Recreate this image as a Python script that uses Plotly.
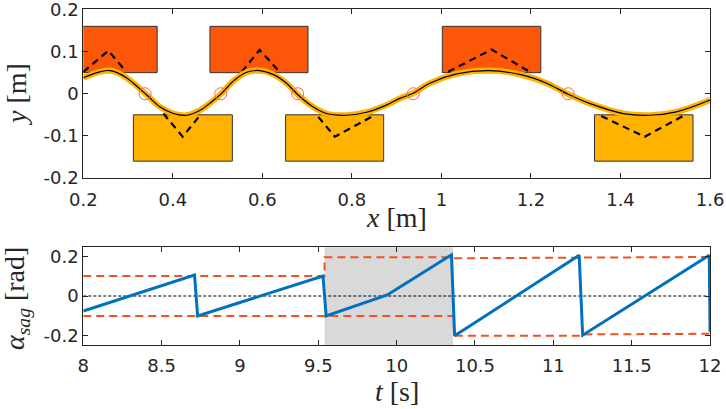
import plotly.graph_objects as go

# ---- top panel: pads, reference path and body curve ----
pad_top_x0 = [0.145, 0.483, 1.002]
pad_top_x1 = [0.365, 0.702, 1.222]
pad_bot_x0 = [0.312, 0.652, 1.342]
pad_bot_x1 = [0.533, 0.871, 1.562]
pad_top_y = [0.05, 0.16]
pad_bot_y = [-0.16, -0.05]

ref_x = [0.2, 0.256, 0.293, None, 0.379, 0.422, 0.461, None,
         0.554, 0.594, 0.635, None, 0.725, 0.762, 0.847, None,
         1.015, 1.112, 1.201, None, 1.357, 1.454, 1.543]
ref_y = [0.052, 0.102, 0.056, None, -0.047, -0.102, -0.051, None,
         0.052, 0.104, 0.056, None, -0.055, -0.102, -0.053, None,
         0.052, 0.105, 0.05, None, -0.053, -0.102, -0.051]

body_x = [0.2, 0.237, 0.26, 0.289, 0.312, 0.342, 0.371, 0.401, 0.431, 0.461,
          0.487, 0.509, 0.535, 0.565, 0.594, 0.624, 0.654, 0.68, 0.713, 0.743,
          0.788, 0.833, 0.877, 0.907, 0.937, 0.974, 1.034, 1.108, 1.182, 1.235,
          1.283, 1.331, 1.406, 1.465, 1.525, 1.6]
body_y = [0.038, 0.052, 0.055, 0.043, 0.025, -0.003, -0.031, -0.047, -0.051, -0.039,
          -0.019, 0.001, 0.030, 0.051, 0.055, 0.046, 0.025, -0.003, -0.031, -0.047,
          -0.051, -0.044, -0.027, -0.011, 0.001, 0.025, 0.047, 0.055, 0.044, 0.025,
          -0.001, -0.023, -0.047, -0.051, -0.043, -0.015]

contact_x = [0.338, 0.507, 0.679, 0.937, 1.283]
contact_y = [0, 0, 0, 0, 0]

# ---- bottom panel: sag angle and limits ----
t_alpha = [8.0, 8.71, 8.73, 9.53, 9.55, 9.94, 10.35, 10.37, 11.165, 11.187, 11.995, 12.0]
alpha = [-0.076, 0.105, -0.1, 0.1, -0.1, 0.005, 0.207, -0.2, 0.205, -0.197, 0.205, -0.18]

t_upper = [8.0, 9.54, 9.54, 10.36, 10.37, 12.0]
alpha_upper = [0.1, 0.1, 0.195, 0.195, 0.19, 0.196]
t_lower = [8.0, 10.36, 10.37, 11.19, 11.2, 12.0]
alpha_lower = [-0.1, -0.1, -0.2, -0.2, -0.193, -0.19]

shade_t = [9.54, 10.36]

RED = "#FC5608"
YELLOW = "#FFB300"
EDGE = "#333333"
AX = "#262626"

fig = go.Figure()

fig.add_trace(go.Scatter(x=ref_x, y=ref_y, mode="lines",
                         line=dict(color="black", width=2.2, dash="7px,5px"),
                         xaxis="x", yaxis="y"))
fig.add_trace(go.Scatter(x=body_x, y=body_y, mode="lines", line_shape="spline",
                         line=dict(color=YELLOW, width=6), xaxis="x", yaxis="y"))
fig.add_trace(go.Scatter(x=body_x, y=body_y, mode="lines", line_shape="spline",
                         line=dict(color="black", width=1.2), xaxis="x", yaxis="y"))
fig.add_trace(go.Scatter(x=contact_x, y=contact_y, mode="markers",
                         marker=dict(symbol="circle-open", size=12,
                                     color="#F2685A", line=dict(width=1)),
                         xaxis="x", yaxis="y"))

fig.add_trace(go.Scatter(x=[8, 12], y=[0, 0], mode="lines",
                         line=dict(color="black", width=1, dash="3px,2px"),
                         xaxis="x2", yaxis="y2"))
fig.add_trace(go.Scatter(x=t_upper, y=alpha_upper, mode="lines",
                         line=dict(color="#F4511E", width=2, dash="8px,5px"),
                         xaxis="x2", yaxis="y2"))
fig.add_trace(go.Scatter(x=t_lower, y=alpha_lower, mode="lines",
                         line=dict(color="#F4511E", width=2, dash="8px,5px"),
                         xaxis="x2", yaxis="y2"))
fig.add_trace(go.Scatter(x=t_alpha, y=alpha, mode="lines",
                         line=dict(color="#0072BD", width=3),
                         xaxis="x2", yaxis="y2"))

shapes = []
for a, b in zip(pad_top_x0, pad_top_x1):
    shapes.append(dict(type="rect", xref="x", yref="y", x0=a, x1=b,
                       y0=pad_top_y[0], y1=pad_top_y[1], fillcolor=RED,
                       line=dict(color=EDGE, width=1), layer="below"))
for a, b in zip(pad_bot_x0, pad_bot_x1):
    shapes.append(dict(type="rect", xref="x", yref="y", x0=a, x1=b,
                       y0=pad_bot_y[0], y1=pad_bot_y[1], fillcolor=YELLOW,
                       line=dict(color=EDGE, width=1), layer="below"))
shapes.append(dict(type="rect", xref="x2", yref="y2 domain", x0=shade_t[0], x1=shade_t[1],
                   y0=0, y1=1, fillcolor="#D9D9D9", line=dict(width=0), layer="below"))

tickfont = dict(family="DejaVu Sans", size=18, color=AX)
axis_common = dict(showline=True, linecolor=AX, linewidth=1, mirror="ticks",
                   ticks="inside", ticklen=5, tickcolor=AX, showgrid=False,
                   zeroline=False, tickfont=tickfont, automargin=False,
                   ticklabeloverflow="allow")

fig.update_layout(
    width=726, height=409,
    margin=dict(l=0, r=0, t=0, b=0),
    paper_bgcolor="white", plot_bgcolor="white",
    showlegend=False,
    shapes=shapes,
    xaxis=dict(domain=[0.1147, 0.978], range=[0.2, 1.6],
               tickvals=[0.2, 0.4, 0.6, 0.8, 1.0, 1.2, 1.4, 1.6],
               ticktext=["0.2", "0.4", "0.6", "0.8", "1", "1.2", "1.4", "1.6"],
               ticklabelstandoff=5, anchor="y", **axis_common),
    yaxis=dict(domain=[0.5648, 0.9768], range=[-0.2, 0.2],
               tickvals=[-0.2, -0.1, 0, 0.1, 0.2],
               ticktext=["-0.2", "-0.1", "0", "0.1", "0.2"],
               anchor="x", **axis_common),
    xaxis2=dict(domain=[0.1147, 0.978], range=[8, 12],
                tickvals=[8, 8.5, 9, 9.5, 10, 10.5, 11, 11.5, 12],
                ticktext=["8", "8.5", "9", "9.5", "10", "10.5", "11", "11.5", "12"],
                ticklabelstandoff=4, anchor="y2", **axis_common),
    yaxis2=dict(domain=[0.1557, 0.3954], range=[-0.248, 0.245],
                tickvals=[-0.2, 0, 0.2], ticktext=["-0.2", "0", "0.2"],
                anchor="x2", **axis_common),
)

labfont = dict(family="Liberation Serif", size=28, color=AX)
lab = dict(xref="paper", yref="paper", showarrow=False, font=labfont,
           xanchor="center", yanchor="middle", borderpad=0)
fig.add_annotation(text="<i>y</i> [m]", x=0.0234, y=0.7702, textangle=-90, **lab)
fig.add_annotation(text="<i>x</i> [m]", x=0.5468, y=0.467, **lab)
fig.add_annotation(text="<i>α<sub>sag</sub></i> [rad]", x=0.0234, y=0.2714,
                   textangle=-90, **lab)
fig.add_annotation(text="<i>t</i> [s]", x=0.5468, y=0.043, **lab)

fig.write_html("out.html", config={"displayModeBar": False},
               post_script="document.body.style.margin='0';"
                           "document.body.style.overflow='hidden';")
